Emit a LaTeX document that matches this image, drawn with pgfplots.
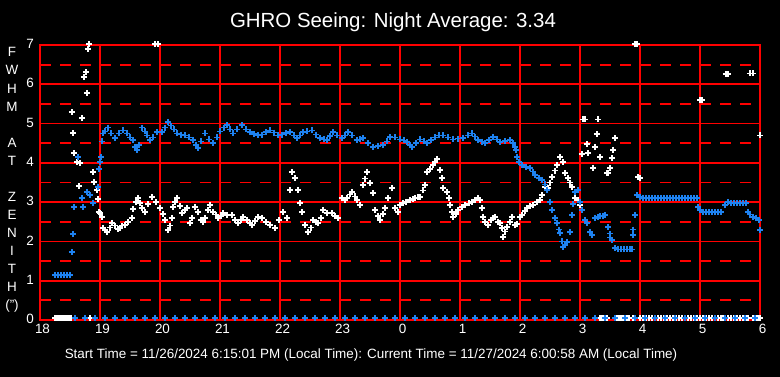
\documentclass[border=0pt]{standalone}
\usepackage{pgfplots}
\pgfplotsset{compat=1.18}
\usepackage{fontspec}
\setmainfont{Liberation Sans}
\definecolor{sblue}{RGB}{30,130,240}
\begin{document}
\begin{tikzpicture}
\fill[black] (0,0) rectangle (780bp,377bp);
\begin{axis}[
  at={(40bp,57bp)}, anchor=south west,
  scale only axis, width=720bp, height=275bp,
  xmin=18, xmax=30, ymin=0, ymax=7,
  axis line style={red, line width=1.8bp},
  xtick={18,...,30}, xticklabels={18,19,20,21,22,23,0,1,2,3,4,5,6},
  ytick={0,...,7},
  minor ytick={0.5,1.5,...,6.5},
  grid=both,
  major grid style={red, line width=1.8bp},
  minor grid style={red, line width=1.8bp, dash pattern=on 11bp off 9bp},
  major tick length=0pt, minor tick length=0pt,
  /pgf/number format/assume math mode=true,
  tick label style={white, font=\fontsize{13.5}{15}\selectfont},
  xticklabel style={anchor=north, inner sep=0pt, yshift=-4bp, xshift=2.5bp},
  yticklabel style={anchor=east, inner sep=0pt, xshift=-6bp, yshift=1bp},
  clip=false,
  every axis plot/.append style={only marks, mark=+, mark size=3bp, mark options={line width=1.5bp}},
]
% white: seeing
\addplot[white] coordinates {
(18.533,5.29)(18.55,4.76)(18.567,4.25)(18.617,4.02)(18.667,4.00)(18.70,5.14)(18.733,6.18)(18.767,6.31)(18.783,5.78)(18.80,6.90)(18.817,7.02)
(18.65,3.41)(18.883,3.77)(18.90,3.51)(18.95,3.31)(18.967,3.08)(18.983,2.75)
(19.00,2.72)(19.033,2.62)(19.05,2.34)(19.083,2.29)(19.117,2.24)(19.167,2.35)(19.20,2.47)(19.25,2.40)(19.30,2.32)(19.333,2.34)(19.367,2.40)(19.417,2.42)(19.467,2.50)(19.533,2.60)(19.55,2.82)(19.60,3.00)(19.633,3.10)(19.667,2.98)(19.70,2.85)(19.75,2.75)(19.80,2.95)(19.867,3.13)(19.933,3.00)
(20.00,2.85)(20.05,2.70)(20.083,2.54)(20.133,2.29)(20.167,2.40)(20.20,2.60)(20.217,2.88)(20.25,3.00)(20.283,3.10)(20.333,2.90)(20.367,2.72)(20.417,2.80)(20.45,2.85)(20.50,2.47)(20.533,2.60)(20.583,2.88)(20.633,2.75)(20.683,2.55)(20.717,2.49)(20.75,2.60)(20.80,2.80)(20.833,2.93)(20.883,2.75)(20.933,2.68)(20.967,2.60)
(21.017,2.65)(21.05,2.72)(21.117,2.67)(21.20,2.67)(21.25,2.55)(21.30,2.47)(21.35,2.55)(21.383,2.62)(21.45,2.55)(21.50,2.47)(21.533,2.42)(21.583,2.52)(21.633,2.62)(21.70,2.60)(21.767,2.50)(21.833,2.42)(21.917,2.34)(21.983,2.55)
(22.05,2.75)(22.117,2.60)(22.167,3.31)(22.20,3.77)(22.25,3.61)(22.30,3.31)(22.333,2.98)(22.367,2.75)(22.417,2.42)(22.467,2.24)(22.517,2.35)(22.55,2.54)(22.60,2.50)(22.633,2.47)(22.683,2.60)(22.717,2.80)(22.783,2.72)(22.867,2.72)(22.917,2.65)(22.967,2.60)
(23.033,3.10)(23.083,3.05)(23.117,3.10)(23.167,3.20)(23.20,3.26)(23.25,3.15)(23.283,3.05)(23.333,2.93)(23.383,3.44)(23.417,3.60)(23.45,3.77)(23.50,3.49)(23.55,3.23)(23.583,2.80)(23.633,2.65)(23.667,2.54)(23.717,2.70)(23.75,2.85)(23.80,3.10)(23.867,3.36)(23.917,2.85)(23.967,2.75)
(24.00,2.93)(24.05,2.98)(24.10,3.00)(24.167,3.05)(24.217,3.08)(24.25,3.10)(24.30,3.12)(24.333,3.13)(24.383,3.30)(24.417,3.44)(24.45,3.77)(24.50,3.85)(24.55,3.94)(24.583,4.02)(24.617,4.10)(24.667,3.82)(24.70,3.61)(24.717,3.36)(24.783,3.26)(24.817,3.10)(24.833,2.93)(24.867,2.75)(24.883,2.62)(24.933,2.70)(24.967,2.80)
(25.033,2.88)(25.083,2.93)(25.15,2.97)(25.20,3.00)(25.25,3.05)(25.30,3.10)(25.333,3.05)(25.367,2.85)(25.383,2.62)(25.417,2.49)(25.467,2.42)(25.517,2.55)(25.55,2.60)(25.583,2.62)(25.633,2.50)(25.667,2.47)(25.70,2.34)(25.717,2.11)(25.75,2.25)(25.783,2.37)(25.833,2.50)(25.867,2.62)(25.917,2.42)(25.95,2.45)
(26.00,2.62)(26.033,2.67)(26.083,2.78)(26.117,2.85)(26.167,2.90)(26.217,2.93)(26.283,3.00)(26.333,3.05)(26.367,3.18)(26.417,3.38)(26.467,3.36)(26.50,3.50)(26.533,3.64)(26.583,3.80)(26.617,3.94)(26.667,4.15)(26.717,4.02)(26.75,3.74)(26.80,3.61)(26.833,3.50)(26.867,3.38)(26.917,3.10)(26.967,3.05)(27.00,2.93)
(27.033,4.22)(27.05,5.11)(27.083,5.11)(27.117,4.48)(27.133,4.25)(27.217,3.87)(27.25,4.40)(27.283,4.73)(27.30,5.11)(27.333,4.15)(27.45,3.74)(27.467,3.74)(27.50,3.87)(27.533,4.12)(27.55,4.33)(27.583,4.63)
(27.917,7.02)(27.95,7.02)(27.967,3.64)(28.00,3.62)(29.00,5.60)(29.033,5.60)(29.433,6.26)(29.467,6.26)(29.833,6.28)(29.883,6.28)(30.00,4.70)(19.917,7.02)(19.967,7.02)
};
% white: zero readings
\addplot[white] coordinates {
(18.25,0.05)(18.283,0.05)(18.317,0.05)(18.35,0.05)(18.383,0.05)(18.417,0.05)(18.45,0.05)(18.483,0.05)(18.517,0.05)(18.833,0.05)
(27.333,0.05)(27.367,0.05)(27.40,0.05)(27.45,0.05)
(27.617,0.05)(27.65,0.05)(27.683,0.05)(27.717,0.05)(27.75,0.05)(27.783,0.05)(27.817,0.05)(27.883,0.05)
(28.00,0.05)(28.05,0.05)(28.10,0.05)(28.15,0.05)(28.20,0.05)(28.25,0.05)(28.30,0.05)(28.35,0.05)(28.40,0.05)(28.45,0.05)(28.50,0.05)(28.55,0.05)(28.60,0.05)(28.65,0.05)(28.70,0.05)(28.75,0.05)(28.80,0.05)(28.85,0.05)(28.90,0.05)(28.95,0.05)(29.00,0.05)
(29.05,0.05)(29.10,0.05)(29.15,0.05)(29.20,0.05)(29.25,0.05)(29.30,0.05)(29.35,0.05)(29.383,0.05)
(29.467,0.05)(29.517,0.05)(29.567,0.05)(29.617,0.05)(29.667,0.05)(29.717,0.05)(29.767,0.05)(29.80,0.05)
(29.883,0.05)(29.933,0.05)(29.967,0.05)(30.00,0.05)
};
% blue: seeing at zenith
\addplot[sblue] coordinates {
(18.25,1.15)(18.30,1.15)(18.35,1.15)(18.40,1.15)(18.45,1.15)(18.50,1.15)
(18.533,1.73)(18.55,2.19)(18.567,2.88)(18.633,4.15)(18.70,3.10)(18.717,2.88)(18.783,3.26)(18.833,3.18)(18.883,2.98)(18.967,3.38)(18.983,3.84)
(19.00,4.02)(19.017,4.15)(19.033,4.55)(19.05,4.75)(19.083,4.80)(19.133,4.90)(19.183,4.75)(19.25,4.63)(19.317,4.75)(19.383,4.83)(19.45,4.75)(19.50,4.65)(19.55,4.58)(19.583,4.40)(19.617,4.33)(19.65,4.45)(19.70,4.90)(19.75,4.80)(19.783,4.70)(19.833,4.58)(19.883,4.65)(19.95,4.78)
(20.033,4.78)(20.083,4.90)(20.133,5.04)(20.183,4.95)(20.233,4.85)(20.283,4.75)(20.35,4.72)(20.417,4.70)(20.483,4.65)(20.55,4.58)(20.60,4.45)(20.633,4.38)(20.683,4.55)(20.75,4.75)(20.817,4.60)(20.883,4.50)(20.95,4.65)
(21.00,4.80)(21.067,4.90)(21.117,4.96)(21.167,4.85)(21.217,4.75)(21.283,4.85)(21.367,4.96)(21.433,4.85)(21.50,4.78)(21.567,4.74)(21.633,4.70)(21.70,4.72)(21.767,4.78)(21.833,4.83)(21.90,4.77)(21.967,4.70)
(22.033,4.72)(22.10,4.76)(22.167,4.78)(22.233,4.70)(22.283,4.63)(22.333,4.70)(22.383,4.78)(22.45,4.80)(22.533,4.83)(22.60,4.72)(22.667,4.63)(22.733,4.60)(22.783,4.58)(22.833,4.68)(22.883,4.78)(22.95,4.70)
(23.033,4.63)(23.083,4.70)(23.133,4.78)(23.20,4.70)(23.283,4.58)(23.333,4.60)(23.383,4.63)(23.467,4.50)(23.55,4.40)(23.633,4.43)(23.717,4.45)(23.783,4.55)(23.833,4.66)(23.917,4.65)
(24.00,4.60)(24.067,4.57)(24.117,4.53)(24.167,4.45)(24.20,4.40)(24.267,4.50)(24.333,4.60)(24.40,4.55)(24.45,4.50)(24.517,4.58)(24.583,4.65)(24.65,4.70)(24.717,4.70)(24.80,4.65)(24.883,4.60)(24.967,4.62)
(25.05,4.63)(25.133,4.70)(25.20,4.75)(25.25,4.67)(25.30,4.58)(25.367,4.54)(25.417,4.50)(25.483,4.58)(25.55,4.66)(25.617,4.60)(25.667,4.53)(25.75,4.56)(25.833,4.58)(25.883,4.50)(25.917,4.40)(25.933,4.33)(25.95,4.15)(25.983,4.02)
(26.033,3.94)(26.10,3.90)(26.167,3.87)(26.217,3.78)(26.25,3.69)(26.317,3.62)(26.367,3.56)(26.417,3.45)(26.45,3.31)(26.50,3.00)(26.533,2.80)(26.583,2.60)(26.617,2.47)(26.65,2.30)(26.667,2.21)(26.70,2.00)(26.717,1.86)(26.75,1.90)(26.783,1.98)(26.833,2.24)(26.867,2.67)(26.883,2.95)(26.917,3.26)(26.967,3.31)
(27.00,3.00)(27.033,2.80)(27.083,2.54)(27.117,2.47)(27.167,2.24)(27.20,2.16)(27.25,2.60)(27.30,2.63)(27.333,2.65)(27.383,2.65)(27.417,2.67)(27.467,2.37)(27.50,2.20)(27.50,2.10)(27.533,2.04)(27.583,1.83)(27.633,1.80)(27.683,1.80)(27.733,1.80)(27.783,1.80)(27.833,1.80)(27.867,1.80)(27.883,2.16)(27.883,2.30)(27.917,2.67)(27.95,3.18)
(28.00,3.13)(28.05,3.10)(28.10,3.10)(28.15,3.10)(28.20,3.10)(28.25,3.10)(28.30,3.10)(28.35,3.10)(28.40,3.10)(28.45,3.10)(28.50,3.10)(28.55,3.10)(28.60,3.10)(28.65,3.10)(28.70,3.10)(28.75,3.10)(28.80,3.10)(28.85,3.10)(28.90,3.10)(28.95,3.10)(28.967,2.88)
(29.00,2.80)(29.05,2.75)(29.10,2.75)(29.15,2.75)(29.20,2.75)(29.25,2.75)(29.30,2.75)(29.35,2.75)(29.417,2.93)(29.467,3.00)(29.517,2.98)(29.567,2.98)(29.617,2.98)(29.667,2.98)(29.717,2.98)(29.767,2.98)(29.80,2.75)(29.833,2.68)(29.883,2.62)(29.933,2.60)(29.983,2.55)(30.00,2.29)
};
% blue: zero readings
\addplot[sblue] coordinates {
(18.583,0.05)(18.75,0.05)(18.917,0.05)(19.083,0.05)(19.25,0.05)(19.417,0.05)(19.583,0.05)(19.75,0.05)(19.917,0.05)(20.083,0.05)(20.25,0.05)(20.417,0.05)(20.583,0.05)(20.75,0.05)(20.917,0.05)(21.083,0.05)(21.25,0.05)(21.417,0.05)(21.583,0.05)(21.75,0.05)(21.917,0.05)(22.083,0.05)(22.25,0.05)(22.417,0.05)(22.583,0.05)(22.75,0.05)(22.917,0.05)(23.083,0.05)(23.25,0.05)(23.417,0.05)(23.583,0.05)(23.75,0.05)(23.917,0.05)(24.083,0.05)(24.25,0.05)(24.417,0.05)(24.583,0.05)(24.75,0.05)(24.917,0.05)(25.083,0.05)(25.25,0.05)(25.417,0.05)(25.583,0.05)(25.75,0.05)(25.917,0.05)(26.083,0.05)(26.25,0.05)(26.417,0.05)(26.583,0.05)(26.75,0.05)(26.917,0.05)(27.083,0.05)(27.25,0.05)(27.417,0.05)(27.583,0.05)(27.75,0.05)(27.917,0.05)(28.083,0.05)(28.25,0.05)(28.417,0.05)(28.583,0.05)(28.75,0.05)(28.917,0.05)(29.083,0.05)(29.25,0.05)(29.417,0.05)(29.583,0.05)(29.75,0.05)(29.917,0.05)
};
\end{axis}
\node[white, font=\fontsize{20.5}{24}\selectfont, inner sep=0pt] at (393bp,355bp) {GHRO Seeing: Night Average: 3.34};
\node[white, font=\fontsize{13.5}{18.1}\selectfont, align=center, inner sep=0pt] at (12bp,197bp) {F\\W\\H\\M\\[18.1bp]A\\T\\[18.1bp]Z\\E\\N\\I\\T\\H\\(")};
\node[white, font=\fontsize{13.5}{16}\selectfont, inner sep=0pt] at (371bp,22bp) {Start Time = 11/26/2024 6:15:01 PM (Local Time): Current Time = 11/27/2024 6:00:58 AM (Local Time)};
\end{tikzpicture}
\end{document}
